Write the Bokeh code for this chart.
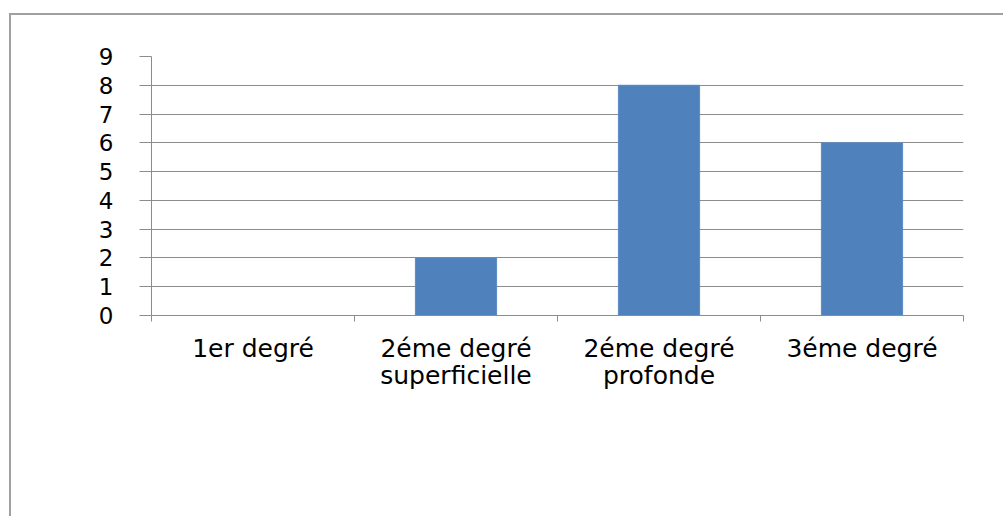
from bokeh.plotting import figure
from bokeh.models import Range1d, FixedTicker, InlineStyleSheet
from bokeh.embed import file_html
from bokeh.resources import INLINE

# Burn severity categories and their counts
categories = ["1er degré", "2éme degré\nsuperficielle", "2éme degré\nprofonde", "3éme degré"]
counts = [0, 2, 8, 6]
y_ticks = [0, 1, 2, 3, 4, 5, 6, 7, 8, 9]

n = len(categories)
centers = [i + 0.5 for i in range(n)]
bounds = [float(i) for i in range(n + 1)]

FONT = "DejaVu Sans"
GRID = "#8c8c8c"

p = figure(
    width=1003, height=516,
    x_range=Range1d(0, n), y_range=Range1d(y_ticks[0], y_ticks[-1]),
    output_backend="svg", toolbar_location=None,
    min_border_left=151, min_border_right=40,
    min_border_top=56, min_border_bottom=201,
)
p.outline_line_color = None
p.background_fill_color = "white"
p.border_fill_color = "white"

p.vbar(x=centers, top=counts, width=0.4, bottom=0,
       fill_color="#4F81BD", line_color="#5b8ac4", line_width=1)

# horizontal gridlines
p.xgrid.visible = False
p.ygrid.ticker = FixedTicker(ticks=y_ticks)
p.ygrid.grid_line_color = GRID
p.ygrid.grid_line_width = 1

# value axis
ya = p.yaxis[0]
ya.ticker = FixedTicker(ticks=y_ticks, minor_ticks=[])
ya.axis_line_color = GRID
ya.major_tick_line_color = GRID
ya.major_tick_out = 12
ya.major_tick_in = 0
ya.minor_tick_line_color = None
ya.major_label_standoff = 26
ya.major_label_text_font = FONT
ya.major_label_text_font_size = "23px"
ya.major_label_text_color = "black"

# category axis: labels centred on each bar, ticks on the boundaries
xa = p.xaxis[0]
xa.ticker = FixedTicker(ticks=centers, minor_ticks=bounds)
xa.major_label_overrides = {c: lab for c, lab in zip(centers, categories)}
xa.axis_line_color = GRID
xa.major_tick_line_color = None
xa.major_tick_out = 0
xa.major_tick_in = 0
xa.minor_tick_line_color = GRID
xa.minor_tick_out = 6
xa.minor_tick_in = 0
xa.major_label_standoff = 12
xa.major_label_text_font = FONT
xa.major_label_text_font_size = "25px"
xa.major_label_text_color = "black"
xa.major_label_text_align = "center"
xa.major_label_text_line_height = 0.95

# outer chart border (open on the right and bottom, where it runs off the page)
p.stylesheets = [InlineStyleSheet(css="""
:host { position: relative; }
:host::after {
  content: "";
  position: absolute;
  left: 9px; top: 13px; width: 1100px; height: 700px;
  border-left: 2px solid #a0a0a0;
  border-top: 2px solid #a0a0a0;
  pointer-events: none;
  box-sizing: border-box;
}
""")]

open("out.html", "w").write(file_html(p, INLINE))
